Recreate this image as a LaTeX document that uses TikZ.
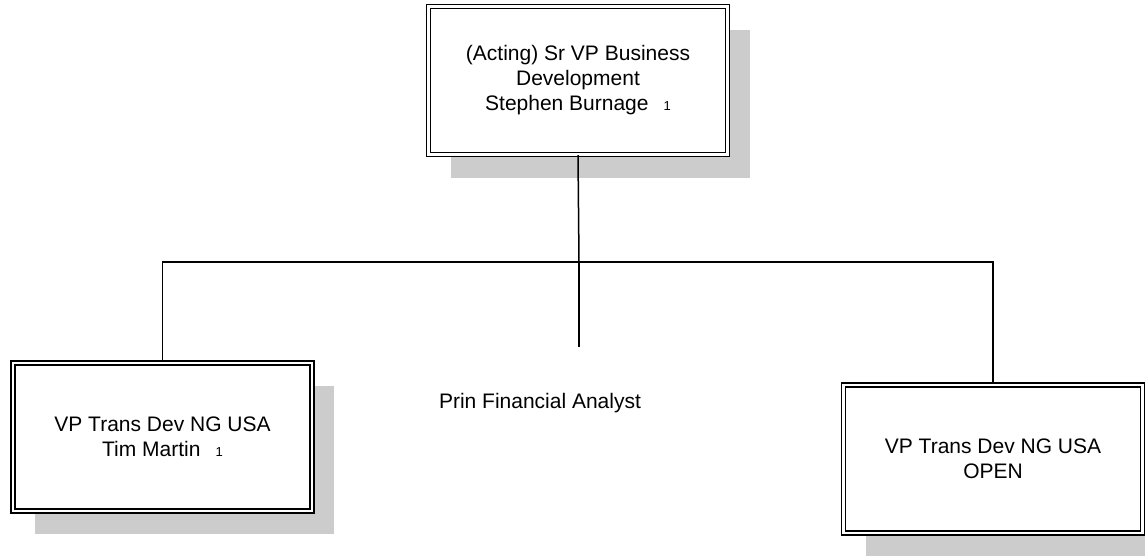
\documentclass[tikz,border=0pt]{standalone}
\usepackage{fontspec}
\setmainfont{Liberation Sans}
\usetikzlibrary{positioning}
\usetikzlibrary{calc}
\usetikzlibrary{shadows}

\tikzset{
  post/.style={draw, double, line width=1.2pt, double distance=2.8pt,
    minimum width=299pt, minimum height=148pt, align=center, fill=white,
    font=\fontsize{21}{25}\selectfont,
    drop shadow={shadow xshift=22pt, shadow yshift=-23pt, opacity=1, fill=black!20}},
  wire/.style={line width=1.5pt}
}
\newcommand{\headcnt}[1]{\hspace{15pt}{\fontsize{13}{14}\selectfont #1}}

\begin{document}
\begin{tikzpicture}[x=1pt,y=-1pt]

\useasboundingbox (0,0) rectangle (1145,555);
\clip (0,0) rectangle (1145,555);

% posts
\node[post] (svp) at (578,80.5) {(Acting) Sr VP Business\\Development\\Stephen Burnage\headcnt{1}};
\node[post] (vpleft) at (162.5,437) {VP Trans Dev NG USA\\Tim Martin\headcnt{1}};
\node[post] (vpright) at (993,459) {VP Trans Dev NG USA\\OPEN};

\node[font=\fontsize{21}{25}\selectfont] (analyst) at (540,403) {Prin Financial Analyst};

% reporting lines
\coordinate (fork) at (579,262);
\coordinate (stub) at (579,347);

\draw[wire] (svp.south) -- (fork);
\draw[wire] (vpleft.north) |- (fork) -| (vpright.north);
\draw[wire] (fork) -- (stub);

\end{tikzpicture}
\end{document}
